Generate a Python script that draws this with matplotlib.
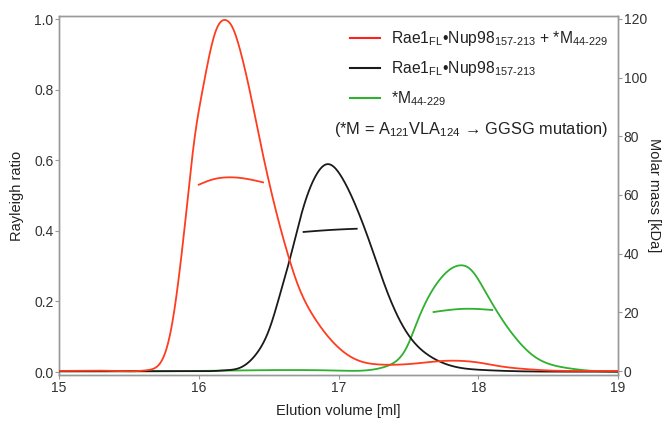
import matplotlib
matplotlib.use("Agg")
import matplotlib.pyplot as plt
import numpy as np
from matplotlib.lines import Line2D

plt.rcParams['font.family'] = ['Liberation Sans', 'DejaVu Sans']
plt.rcParams['mathtext.fontset'] = 'custom'
plt.rcParams['mathtext.rm'] = 'Liberation Sans'
plt.rcParams['mathtext.it'] = 'Liberation Sans'

# ---- data ----
# Rayleigh ratio traces (elution volume in ml)
red_v = [15.0, 15.4, 15.58, 15.63, 15.70, 15.77, 15.82, 15.867, 15.92, 15.963, 16.023, 16.082,
         16.142, 16.183, 16.238, 16.297, 16.369, 16.441, 16.513, 16.556, 16.632, 16.703, 16.823,
         16.966, 17.086, 17.158, 17.30, 17.44, 17.60, 17.73, 17.85, 18.0, 18.16, 18.35, 18.52,
         18.7, 19.0]
red_r = [0.003, 0.003, 0.003, 0.005, 0.013, 0.062, 0.156, 0.297, 0.487, 0.649, 0.79, 0.912,
         0.989, 1.0, 0.983, 0.912, 0.79, 0.649, 0.52, 0.45, 0.34, 0.252, 0.156,
         0.082, 0.043, 0.030, 0.021, 0.021, 0.026, 0.031, 0.032, 0.027, 0.016, 0.008, 0.004,
         0.003, 0.003]

black_v = [15.0, 15.6, 16.0, 16.12, 16.20, 16.30, 16.417, 16.513, 16.584, 16.656, 16.728, 16.82,
           16.87, 16.92, 16.97, 17.02, 17.13, 17.23, 17.34, 17.49, 17.66, 17.83, 18.02, 18.3,
           18.6, 19.0]
black_r = [0.002, 0.002, 0.002, 0.003, 0.005, 0.012, 0.053, 0.128, 0.224, 0.325, 0.44, 0.545,
           0.578, 0.592, 0.582, 0.555, 0.465, 0.36, 0.235, 0.11, 0.043, 0.015, 0.006, 0.002,
           0.001, 0.001]

green_v = [15.0, 16.0, 17.0, 17.25, 17.35, 17.44, 17.49, 17.56, 17.62, 17.71, 17.80, 17.87,
           17.95, 18.04, 18.16, 18.28, 18.40, 18.52, 18.64, 18.76, 18.88, 19.0]
green_r = [0.002, 0.003, 0.004, 0.007, 0.017, 0.04, 0.07, 0.14, 0.195, 0.255, 0.292, 0.303,
           0.29, 0.235, 0.155, 0.09, 0.044, 0.021, 0.011, 0.005, 0.002, 0.001]

# molar mass (kDa) across peaks
red_mv = [16.0, 16.1, 16.2, 16.3, 16.46]
red_mm = [63.5, 65.3, 66.0, 65.8, 64.3]
black_mv = [16.75, 16.95, 17.13]
black_mm = [47.4, 48.1, 48.5]
green_mv = [17.68, 17.9, 18.1]
green_mm = [20.1, 21.2, 20.8]

labels = [r'Rae1$_{\mathrm{FL}}$•Nup98$_{\mathrm{157‐213}}$ + *M$_{\mathrm{44‐229}}$',
          r'Rae1$_{\mathrm{FL}}$•Nup98$_{\mathrm{157‐213}}$',
          r'*M$_{\mathrm{44‐229}}$']
note = r'(*M = A$_{\mathrm{121}}$VLA$_{\mathrm{124}}$ → GGSG mutation)'

RED = '#ff3c1e'
BLACK = '#1a1a1a'
GREEN = '#2fb02f'
GRAY = '#999999'


def spline(x, y, n=800, sigma=0.0):
    # natural cubic spline through the read points, optional light smoothing
    x = np.asarray(x, float)
    y = np.asarray(y, float)
    k = len(x)
    h = np.diff(x)
    A = np.zeros((k, k))
    b = np.zeros(k)
    A[0, 0] = A[-1, -1] = 1.0
    for i in range(1, k - 1):
        A[i, i - 1] = h[i - 1]
        A[i, i] = 2 * (h[i - 1] + h[i])
        A[i, i + 1] = h[i]
        b[i] = 6 * ((y[i + 1] - y[i]) / h[i] - (y[i] - y[i - 1]) / h[i - 1])
    M = np.linalg.solve(A, b)
    xs = np.linspace(x[0], x[-1], n)
    j = np.clip(np.searchsorted(x, xs) - 1, 0, k - 2)
    t1 = x[j + 1] - xs
    t0 = xs - x[j]
    ys = (M[j] * t1**3 + M[j + 1] * t0**3) / (6 * h[j]) \
        + (y[j] / h[j] - M[j] * h[j] / 6) * t1 \
        + (y[j + 1] / h[j] - M[j + 1] * h[j] / 6) * t0
    if sigma > 0:
        dx = xs[1] - xs[0]
        r = int(4 * sigma / dx)
        kern = np.exp(-0.5 * (np.arange(-r, r + 1) * dx / sigma) ** 2)
        kern /= kern.sum()
        ys = np.convolve(np.pad(ys, r, mode='edge'), kern, mode='valid')
    return xs, np.clip(ys, 0.0005, None)


fig = plt.figure(figsize=(6.66, 4.26), dpi=100)
ax = fig.add_axes([0.0886, 0.1197, 0.8394, 0.8427])
ax2 = ax.twinx()

ax2.plot(*spline(red_mv, red_mm, 60), color=RED, lw=1.3)
ax2.plot(*spline(black_mv, black_mm, 60), color=BLACK, lw=1.3)
ax2.plot(*spline(green_mv, green_mm, 60), color=GREEN, lw=1.3)

ax.plot(*spline(green_v, green_r, sigma=0.02), color=GREEN, lw=1.3, zorder=3)
ax.plot(*spline(black_v, black_r, sigma=0.025), color=BLACK, lw=1.3, zorder=4)
ax.plot(*spline(red_v, red_r, sigma=0.022), color=RED, lw=1.3, zorder=5)
ax.set_zorder(ax2.get_zorder() + 1)
ax.patch.set_visible(False)

ax.set_xlim(15, 19)
ax.set_ylim(-0.0085, 1.0085)
ax2.set_ylim(-1.36, 121.0)
ax.set_xticks([15, 16, 17, 18, 19])
ax.set_yticks([0.0, 0.2, 0.4, 0.6, 0.8, 1.0])
ax.set_yticklabels(['0.0', '0.2', '0.4', '0.6', '0.8', '1.0'])
ax2.set_yticks([0, 20, 40, 60, 80, 100, 120])

for a in (ax, ax2):
    for s in a.spines.values():
        s.set_color(GRAY)
        s.set_linewidth(1.0)
    a.tick_params(colors=GRAY, labelcolor='#333333', labelsize=10, length=3, width=0.8, pad=1)

ax.set_xlabel('Elution volume [ml]', fontsize=10.5, color='#222222', labelpad=7)
ax.set_ylabel('Rayleigh ratio', fontsize=10.5, color='#222222', labelpad=7)
ax2.set_ylabel('Molar mass [kDa]', fontsize=10.5, color='#222222', rotation=270, labelpad=10)

handles = [Line2D([], [], color='#ff2020', lw=1.5),
           Line2D([], [], color=BLACK, lw=1.5),
           Line2D([], [], color=GREEN, lw=1.5)]
leg = ax.legend(handles, labels, loc='upper left', bbox_to_anchor=(0.5, 0.994),
                frameon=False, fontsize=11.3, handlelength=1.95, handletextpad=0.7,
                labelspacing=0.7, borderaxespad=0.3)
for t in leg.get_texts():
    t.set_color('#222222')
ax.text(0.492, 0.685, note, transform=ax.transAxes, fontsize=11.8, color='#222222',
        ha='left', va='center')

fig.savefig('out.png', dpi=100)
